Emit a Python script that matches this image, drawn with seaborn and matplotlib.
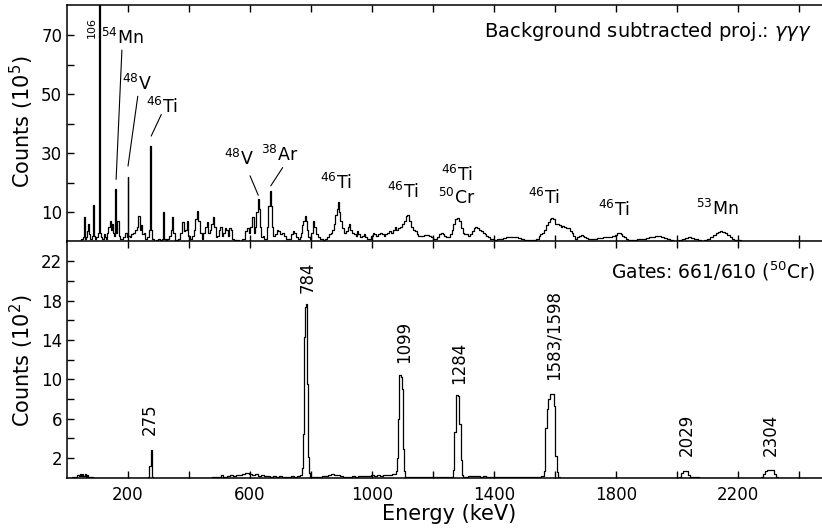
import matplotlib
matplotlib.use("Agg")
import matplotlib.pyplot as plt
import seaborn as sns

# ---------------- data ----------------
top_energy = [0, 45, 50, 54, 57, 60, 64, 68, 72, 75, 79, 83, 87, 90, 94, 98, 102, 106, 110, 114,
              118, 122, 126, 130, 134, 138, 142, 146, 150, 154, 157, 160, 163, 167, 171, 176, 182, 188, 194, 197,
              200, 203, 208, 214, 220, 226, 231, 236, 240, 245, 249, 254, 260, 266, 270, 274, 278, 282, 288, 296,
              302, 308, 312, 316, 320, 326, 332, 338, 342, 346, 350, 356, 362, 368, 374, 380, 384, 389, 395, 400,
              406, 412, 418, 423, 428, 433, 438, 444, 450, 455, 460, 465, 470, 475, 479, 484, 490, 496, 501, 505,
              509, 514, 519, 524, 529, 534, 538, 543, 550, 560, 570, 578, 586, 593, 598, 604, 610, 615, 619, 623,
              627, 631, 635, 640, 644, 648, 654, 658, 662, 666, 670, 674, 678, 684, 690, 696, 702, 708, 714, 720,
              726, 732, 738, 743, 748, 754, 760, 765, 769, 773, 777, 781, 785, 789, 793, 797, 803, 808, 813, 819,
              825, 831, 837, 843, 849, 855, 861, 867, 873, 878, 882, 886, 890, 894, 899, 905, 911, 917, 923, 927,
              931, 937, 943, 949, 953, 957, 963, 969, 975, 981, 987, 993, 999, 1005, 1011, 1017, 1023, 1029, 1035, 1041,
              1047, 1053, 1059, 1065, 1071, 1077, 1083, 1089, 1095, 1101, 1107, 1113, 1119, 1125, 1131, 1137, 1143, 1149, 1155, 1161,
              1167, 1175, 1183, 1191, 1198, 1204, 1210, 1216, 1222, 1228, 1234, 1240, 1246, 1252, 1258, 1264, 1270, 1276, 1282, 1288,
              1294, 1300, 1306, 1312, 1318, 1324, 1330, 1336, 1342, 1348, 1354, 1360, 1366, 1372, 1378, 1384, 1390, 1396, 1404, 1414,
              1424, 1434, 1444, 1454, 1464, 1474, 1484, 1494, 1504, 1514, 1524, 1534, 1544, 1549, 1555, 1561, 1567, 1573, 1579, 1585,
              1591, 1597, 1603, 1609, 1615, 1621, 1627, 1633, 1639, 1645, 1651, 1657, 1663, 1669, 1675, 1681, 1687, 1693, 1699, 1705,
              1711, 1719, 1727, 1735, 1743, 1753, 1763, 1773, 1783, 1793, 1800, 1806, 1812, 1818, 1824, 1830, 1836, 1844, 1852, 1862,
              1872, 1882, 1892, 1902, 1912, 1922, 1932, 1942, 1952, 1962, 1972, 1982, 1992, 2002, 2012, 2022, 2032, 2042, 2052, 2062,
              2072, 2082, 2092, 2102, 2112, 2122, 2130, 2138, 2145, 2152, 2160, 2168, 2176, 2184, 2192, 2200, 2220, 2250, 2290, 2340,
              2400, 2475]
top_counts = [0.3, 0.3, 0.8, 1.5, 8.3, 1.0, 1.5, 3.5, 6.0, 2.5, 1.0, 2.0, 12.5, 2.0, 1.0, 1.5, 3.0, 85, 3.0, 1.5,
              1.0, 2.5, 1.5, 1.0, 3.0, 5.0, 7.0, 4.0, 6.0, 3.0, 2.0, 17.8, 3.0, 7.0, 2.0, 1.0, 0.8, 1.5, 3.0, 1.5,
              22.0, 2.0, 1.5, 2.5, 3.0, 4.0, 5.0, 8.7, 4.0, 5.5, 2.5, 3.0, 1.0, 1.5, 4.0, 32.4, 4.0, 1.0, 0.3, 0.5,
              1.0, 0.5, 1.0, 10.0, 1.0, 0.3, 1.0, 2.0, 4.0, 8.2, 3.0, 0.5, 0.5, 1.0, 3.0, 6.7, 3.5, 4.0, 7.0, 2.0,
              1.0, 2.0, 4.0, 7.5, 10.2, 7.0, 3.0, 1.0, 3.0, 5.0, 6.7, 3.0, 4.0, 6.0, 8.2, 5.0, 1.5, 2.0, 4.0, 5.0,
              2.0, 3.0, 4.5, 4.0, 2.0, 4.5, 4.0, 1.0, 0.5, 0.5, 0.3, 1.0, 3.5, 4.5, 3.0, 5.0, 8.2, 3.0, 5.0, 10.0,
              14.4, 11.0, 5.0, 1.5, 2.0, 1.0, 1.0, 5.0, 12.0, 17.0, 12.0, 5.0, 2.0, 2.5, 4.0, 3.5, 2.5, 3.0, 2.0, 1.0,
              0.8, 1.0, 2.5, 3.5, 3.0, 1.5, 0.8, 1.5, 3.0, 5.5, 7.0, 8.7, 7.0, 4.0, 1.5, 0.8, 3.0, 7.0, 5.0, 2.5,
              1.5, 1.0, 0.8, 0.5, 0.7, 1.5, 2.5, 3.0, 4.0, 6.0, 9.0, 11.0, 13.3, 10.0, 7.0, 4.5, 3.0, 3.5, 5.0, 6.0,
              4.0, 3.0, 2.5, 2.0, 3.5, 2.5, 1.5, 2.0, 2.5, 1.5, 1.0, 0.8, 2.0, 3.0, 2.5, 2.0, 2.5, 3.0, 2.5, 2.0,
              2.5, 3.0, 3.5, 3.0, 4.0, 4.8, 4.0, 4.5, 5.0, 6.0, 7.0, 8.5, 9.1, 7.0, 5.0, 4.0, 3.5, 2.5, 2.0, 2.0,
              2.0, 2.3, 2.2, 2.0, 1.5, 1.0, 0.8, 1.5, 2.5, 2.8, 2.5, 2.0, 1.5, 1.5, 2.5, 4.0, 6.0, 7.5, 7.9, 7.0,
              4.5, 3.0, 2.5, 2.5, 2.0, 2.5, 3.5, 4.5, 4.8, 4.5, 4.0, 3.5, 3.0, 2.5, 2.0, 1.5, 1.0, 0.7, 0.5, 0.8,
              1.0, 1.2, 1.5, 1.6, 1.6, 1.5, 1.2, 0.8, 0.6, 0.5, 0.5, 0.6, 0.8, 2.0, 2.5, 2.8, 4.0, 5.5, 6.5, 7.5,
              8.0, 7.5, 6.0, 6.0, 5.5, 5.0, 5.2, 5.0, 4.5, 4.5, 3.5, 3.0, 2.0, 1.0, 1.5, 2.0, 2.2, 2.0, 1.5, 1.2,
              1.0, 0.8, 0.8, 1.0, 1.2, 1.3, 1.4, 1.5, 1.6, 1.8, 2.2, 2.8, 2.9, 2.5, 2.0, 1.5, 1.0, 0.6, 0.5, 0.5,
              0.7, 0.8, 1.0, 1.2, 1.4, 1.6, 1.8, 1.8, 1.6, 1.3, 0.9, 0.5, 0.3, 0.3, 0.6, 1.0, 1.3, 1.4, 1.2, 0.8,
              0.4, 0.3, 0.4, 0.8, 1.5, 2.2, 2.8, 3.3, 3.5, 3.3, 2.8, 2.2, 1.6, 1.0, 0.6, 0.4, 0.3, 0.3, 0.2, 0.2,
              0.2, 0.2]

bot_energy = [0, 30, 36, 40, 44, 48, 52, 56, 60, 64, 68, 72, 80, 90, 260, 268, 272, 276, 280, 284,
              470, 480, 500, 510, 516, 530, 540, 550, 560, 570, 580, 590, 600, 610, 620, 630, 640, 650, 660, 670,
              680, 690, 700, 710, 720, 730, 740, 750, 760, 766, 770, 773, 776, 779, 782, 785, 788, 791, 794, 798,
              820, 850, 860, 870, 880, 890, 900, 910, 920, 930, 940, 950, 960, 970, 980, 990, 1000, 1010, 1020, 1030,
              1040, 1050, 1060, 1070, 1076, 1080, 1084, 1087, 1090, 1093, 1096, 1099, 1102, 1105, 1109, 1120, 1260, 1268, 1272, 1276,
              1280, 1284, 1288, 1292, 1296, 1300, 1310, 1320, 1330, 1340, 1350, 1360, 1370, 1380, 1400, 1450, 1500, 1530, 1550, 1560,
              1566, 1570, 1575, 1580, 1585, 1590, 1595, 1599, 1603, 1607, 1612, 1620, 2000, 2010, 2016, 2022, 2028, 2034, 2040, 2046,
              2100, 2270, 2280, 2286, 2292, 2298, 2304, 2310, 2316, 2322, 2328, 2336, 2475]
bot_counts = [0.0, 0.1, 0.3, 0.15, 0.35, 0.2, 0.4, 0.2, 0.35, 0.1, 0.3, 0.1, 0.05, 0.0, 0.0, 0.1, 1.2, 2.8, 0.1, 0.0,
              0.0, 0.05, 0.1, 0.25, 0.1, 0.15, 0.25, 0.15, 0.3, 0.25, 0.4, 0.45, 0.4, 0.3, 0.35, 0.2, 0.25, 0.15, 0.2, 0.1,
              0.15, 0.1, 0.15, 0.1, 0.12, 0.1, 0.15, 0.12, 0.2, 0.3, 0.3, 1.0, 4.4, 14.3, 17.3, 17.6, 9.5, 2.1, 0.5, 0.1,
              0.05, 0.15, 0.3, 0.35, 0.25, 0.3, 0.2, 0.1, 0.05, 0.1, 0.15, 0.1, 0.15, 0.2, 0.15, 0.2, 0.25, 0.2, 0.25, 0.2,
              0.3, 0.25, 0.3, 0.35, 0.4, 0.7, 2.0, 6.0, 10.4, 10.4, 10.2, 9.0, 2.9, 0.7, 0.1, 0.05, 0.05, 0.8, 4.6, 8.4,
              8.4, 8.3, 5.5, 1.8, 0.3, 0.05, 0.1, 0.15, 0.2, 0.15, 0.2, 0.1, 0.15, 0.1, 0.05, 0.05, 0.05, 0.1, 0.12, 0.2,
              0.7, 5.1, 7.0, 8.0, 8.5, 8.5, 8.5, 7.3, 2.2, 0.6, 0.05, 0.02, 0.02, 0.05, 0.5, 0.65, 0.65, 0.65, 0.3, 0.05,
              0.02, 0.02, 0.1, 0.4, 0.7, 0.75, 0.75, 0.75, 0.75, 0.4, 0.1, 0.02, 0.02]

x_ticks = [200, 400, 600, 800, 1000, 1200, 1400, 1600, 1800, 2000, 2200, 2400]
x_tick_labels = ["200", "", "600", "", "1000", "", "1400", "", "1800", "", "2200", ""]
top_yticks = [10, 20, 30, 40, 50, 60, 70]
top_ytick_labels = ["10", "", "30", "", "50", "", "70"]
bot_yticks = [2, 4, 6, 8, 10, 12, 14, 16, 18, 20, 22]
bot_ytick_labels = ["2", "", "6", "", "10", "", "14", "", "18", "", "22"]

# isotope labels of the projection: (text, energy, counts)
top_labels = [r"$^{54}$Mn", r"$^{48}$V", r"$^{46}$Ti", r"$^{48}$V", r"$^{38}$Ar",
              r"$^{46}$Ti", r"$^{46}$Ti", r"$^{46}$Ti", r"$^{50}$Cr", r"$^{46}$Ti", r"$^{46}$Ti", r"$^{53}$Mn"]
top_label_e = [182, 229, 313, 564, 698, 881, 1101, 1278, 1278, 1563, 1794, 2131]
top_label_y = [69.1, 53.6, 45.6, 27.9, 29.3, 19.8, 16.9, 22.5, 14.7, 14.9, 10.7, 11.0]
# pointer lines (label end -> peak)
ptr_e0 = [180, 232, 309, 600, 707]
ptr_y0 = [65.0, 49.3, 43.1, 22.3, 25.1]
ptr_e1 = [161, 200, 276, 627, 668]
ptr_y1 = [21.1, 25.6, 35.8, 15.7, 18.9]

gate_labels = ["275", "784", "1099", "1284", "1583/1598", "2029", "2304"]
gate_label_e = [272, 790, 1104, 1285, 1595, 2031, 2307]
gate_label_y = [4.3, 18.8, 11.7, 9.5, 9.9, 2.2, 2.2]

# ---------------- style ----------------
sns.set_style("ticks")
plt.rcParams["font.family"] = ["DejaVu Sans"]
plt.rcParams["mathtext.fontset"] = "dejavusans"
plt.rcParams["text.color"] = "black"
plt.rcParams["axes.labelcolor"] = "black"

W, H = 822, 531
fig = plt.figure(figsize=(W / 100, H / 100), dpi=100)
ax1 = fig.add_axes([67 / W, 1 - 241.5 / H, 755 / W, 236.5 / H])
ax2 = fig.add_axes([67 / W, 1 - 477.7 / H, 755 / W, 236.2 / H])

sns.lineplot(x=top_energy, y=top_counts, ax=ax1, drawstyle="steps-mid", color="black",
             lw=0.9, estimator=None, sort=False)
sns.lineplot(x=bot_energy, y=bot_counts, ax=ax2, drawstyle="steps-mid", color="black",
             lw=0.9, estimator=None, sort=False)

for ax in (ax1, ax2):
    ax.set_xlim(0, 2475)
    ax.set_xticks(x_ticks)
    ax.tick_params(axis="both", which="both", direction="in", length=5, width=1.0,
                   top=True, bottom=True, left=True, right=False, labelsize=12,
                   colors="black", labelcolor="black")
    ax.spines["right"].set_visible(False)
    for s in ("left", "top", "bottom"):
        ax.spines[s].set_linewidth(1.1)
        ax.spines[s].set_color("black")
    ax.set_xlabel("")
    ax.set_ylabel("")

ax1.set_ylim(0, 80.3)
ax1.set_yticks(top_yticks)
ax1.set_yticklabels(top_ytick_labels)
ax1.set_xticklabels([])
ax2.set_ylim(0, 24)
ax2.set_yticks(bot_yticks)
ax2.set_yticklabels(bot_ytick_labels)
ax2.set_xticklabels(x_tick_labels)
ax2.tick_params(axis="x", pad=6)

# annotations top
ax1.text(82, 72.5, "106", rotation=90, fontsize=8, ha="center", va="center", color="black")
for t, e, y in zip(top_labels, top_label_e, top_label_y):
    ax1.text(e, y, t, fontsize=12.5, ha="center", va="center", color="black")
for e0, y0, e1, y1 in zip(ptr_e0, ptr_y0, ptr_e1, ptr_y1):
    ax1.plot([e0, e1], [y0, y1], color="black", lw=0.8)
ax1.text(0.987, 0.886, r"Background subtracted proj.: $\gamma\gamma\gamma$", transform=ax1.transAxes,
         fontsize=14, ha="right", va="center", color="black")

# annotations bottom
for t, e, y in zip(gate_labels, gate_label_e, gate_label_y):
    ax2.text(e, y, t, rotation=90, fontsize=12, ha="center", va="bottom", color="black")
ax2.text(0.991, 0.872, r"Gates: 661/610 ($^{50}$Cr)", transform=ax2.transAxes,
         fontsize=13.5, ha="right", va="center", color="black")

fig.text(22 / W, 1 - 121.5 / H, r"Counts (10$^{5}$)", rotation=90, fontsize=15, ha="center", va="center", color="black")
fig.text(22 / W, 1 - 361 / H, r"Counts (10$^{2}$)", rotation=90, fontsize=15, ha="center", va="center", color="black")
fig.text(449 / W, 1 - 514 / H, "Energy (keV)", fontsize=15, ha="center", va="center", color="black")

fig.savefig("out.png", dpi=100)
